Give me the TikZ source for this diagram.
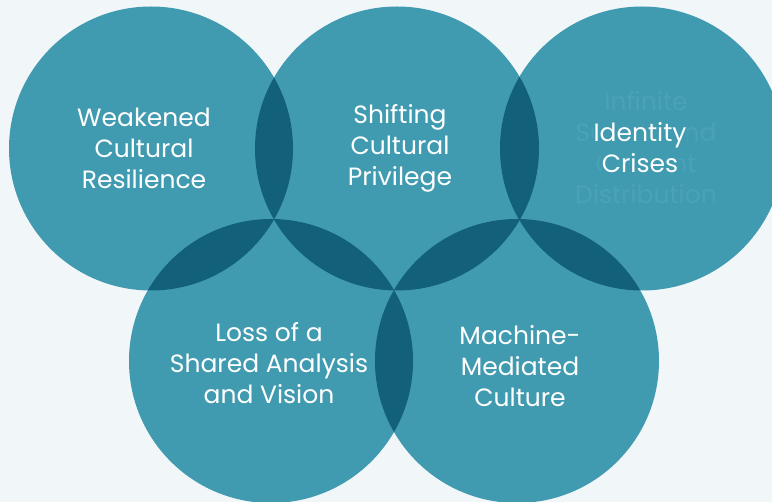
\documentclass[tikz,border=0pt]{standalone}
\usepackage{fontspec}
\setmainfont{Poppins}
\definecolor{bgc}{HTML}{F1F6F9}
\definecolor{circc}{HTML}{419BB0}
\definecolor{lensc}{HTML}{12607A}
\definecolor{ghostc}{HTML}{4AA2B7}
\begin{document}
\begin{tikzpicture}[x=1pt,y=-1pt,
  disc/.style={fill=circc},
  lens/.style={fill=lensc},
  lbl/.style={text=white, font=\fontsize{25}{31}\selectfont, align=center, inner sep=0pt},
  ghost/.style={text=ghostc, font=\fontsize{25}{31}\selectfont, align=center, inner sep=0pt}]
\fill[bgc] (0,0) rectangle (772,502);
\useasboundingbox (0,0) rectangle (772,502);
\def\R{142pt}
\coordinate (c1) at (151,148.5);
\coordinate (c2) at (397,148.5);
\coordinate (c3) at (642,148.5);
\coordinate (c4) at (271,361);
\coordinate (c5) at (517,361);
\foreach \c in {c1,c2,c3,c4,c5}{\fill[disc] (\c) circle[radius=\R];}
\foreach \a/\b in {c1/c2,c2/c3,c1/c4,c2/c4,c2/c5,c3/c5,c4/c5}{
  \begin{scope}
    \clip (\a) circle[radius=\R];
    \fill[lens] (\b) circle[radius=\R];
  \end{scope}
}
\node[ghost] (g3) at (646,148) {Infinite\\Supply and\\Content\\Distribution};
\node[lbl] (t1) at (144,148) {Weakened\\Cultural\\Resilience};
\node[lbl] (t2) at (400,148) {Shifting\\Cultural\\Privilege};
\node[lbl] (t3) at (640,148) {{\fboxsep=1pt\colorbox{circc}{Identity}}\\{\fboxsep=1pt\colorbox{circc}{Crises}}};
\node[lbl] (t4) at (269,363) {Loss of a\\Shared Analysis\\and Vision};
\node[lbl] (t5) at (520,366) {Machine-\\Mediated\\Culture};
\end{tikzpicture}
\end{document}
